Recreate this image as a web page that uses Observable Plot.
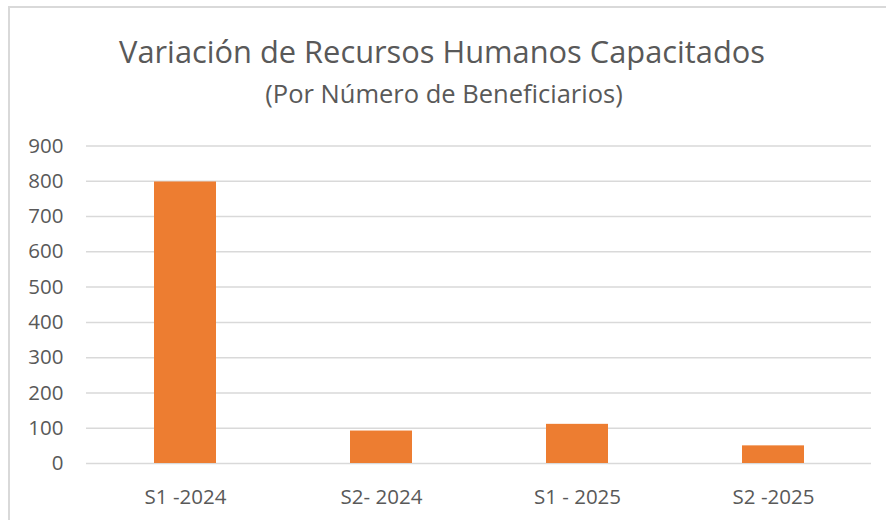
<!DOCTYPE html>
<html><head><meta charset="utf-8">
<script src="https://cdn.jsdelivr.net/npm/d3@7"></script>
<script src="https://cdn.jsdelivr.net/npm/@observablehq/plot@0.6"></script>
<style>
body{margin:0;background:#fff;font-family:"Open Sans",sans-serif;}
#wrap{position:relative;width:886px;height:520px;overflow:hidden;background:#fff}
#frame{position:absolute;left:8px;top:6px;width:920px;height:600px;border:2px solid #d9d9d9;box-sizing:border-box}
#title{position:absolute;left:0;width:884px;top:36px;text-align:center;font-size:30.8px;line-height:30.8px;color:#595959;white-space:nowrap}
#subtitle{position:absolute;left:0;width:888px;top:80.5px;text-align:center;font-size:25.5px;line-height:25.5px;color:#595959;white-space:nowrap}
#chart{position:absolute;left:0;top:125px}
</style>
</head><body>
<div id="wrap">
  <div id="frame"></div>
  <div id="title">Variación de Recursos Humanos Capacitados</div>
  <div id="subtitle">(Por Número de Beneficiarios)</div>
  <div id="chart"></div>
</div>
<script>
const categories = ["S1 -2024", "S2- 2024", "S1 - 2025", "S2 -2025"];
const values = [798, 92, 111, 50];
const yTicks = [0, 100, 200, 300, 400, 500, 600, 700, 800, 900];

const data = categories.map((c, i) => ({cat: c, value: values[i]}));

const chart = Plot.plot({
  width: 886,
  height: 395,
  marginLeft: 86,
  marginRight: 15,
  marginTop: 20.5,
  marginBottom: 57,
  style: {fontFamily: "Open Sans", fontSize: "20.5px", color: "#595959", background: "transparent"},
  x: {domain: categories, paddingInner: 0.684, paddingOuter: 0.342, label: null},
  y: {domain: [0, 900], label: null},
  marks: [
    Plot.gridY(yTicks, {stroke: "#d9d9d9", strokeOpacity: 1, strokeWidth: 1.5}),
    Plot.barY(data, {x: "cat", y: "value", fill: "#ED7D31"}),
    Plot.axisY(yTicks, {tickSize: 0, tickPadding: 23, label: null}),
    Plot.axisX({tickSize: 0, tickPadding: 26, label: null})
  ]
});
document.getElementById("chart").appendChild(chart);
</script>
</body></html>
